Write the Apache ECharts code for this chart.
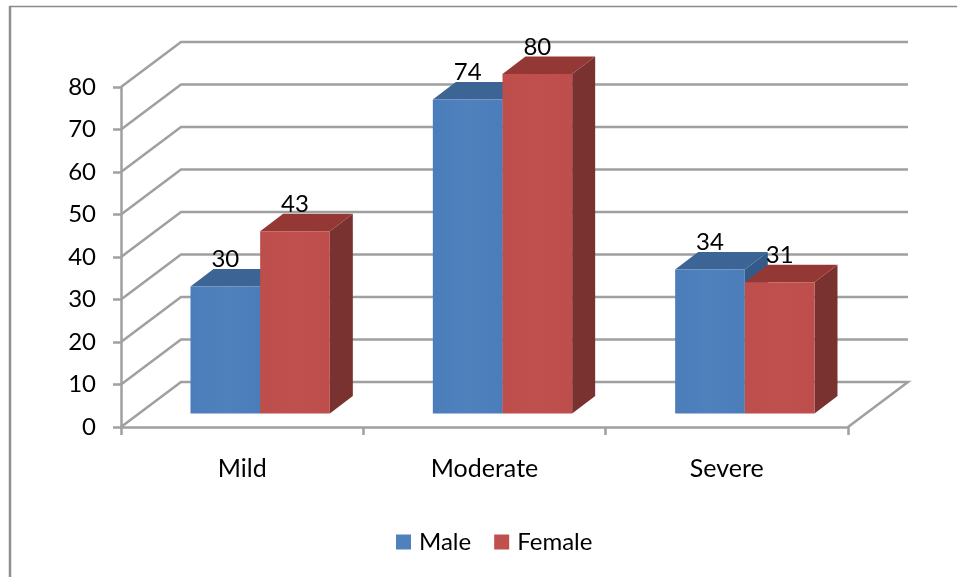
<!DOCTYPE html>
<html>
<head>
<meta charset="utf-8">
<style>html,body{margin:0;padding:0;background:#fff}#c{width:957px;height:577px}</style>
<script src="https://cdn.jsdelivr.net/npm/echarts@6/dist/echarts.min.js"></script>
</head>
<body>
<div id="c"></div>
<script>
var categories = ['Mild', 'Moderate', 'Severe'];
var maleValues = [30, 74, 34];
var femaleValues = [43, 80, 31];
var yTicks = [0, 10, 20, 30, 40, 50, 60, 70, 80];

var FONT = 'Lato, "Open Sans", sans-serif';
var WALL_DX = 60, WALL_DY = -45;
var GRID = '#a0a0a0';

function wallItem(params, api) {
  var v = api.value(0);
  var a = api.coord([categories[0], v]);
  var cs = params.coordSys;
  var x0 = cs.x, x1 = cs.x + cs.width, y = a[1];
  var pts = v === 0
    ? [[x1, y], [x1 + WALL_DX, y + WALL_DY], [x0 + WALL_DX, y + WALL_DY], [x0, y]]
    : [[x0, y], [x0 + WALL_DX, y + WALL_DY], [x1 + WALL_DX, y + WALL_DY]];
  return {
    type: 'polyline', silent: true,
    shape: { points: pts },
    style: { fill: null, stroke: GRID, lineWidth: 2.5 }
  };
}

function barRenderer(side, colors) {
  return function (params, api) {
    var cat = api.value(0), v = api.value(1);
    var top = api.coord([cat, v]), base = api.coord([cat, 0]);
    var w = api.size([1, 0])[0] * 0.2875;
    var cx = top[0] + 18;
    var L = side < 0 ? cx - w : cx, R = L + w;
    var T = top[1] - 13, B = base[1] - 13.5;
    var dx = 23, dy = -17.5;
    return {
      type: 'group',
      children: [
        { type: 'polygon', shape: { points: [[R, T], [R + dx, T + dy], [R + dx, B + dy], [R, B]] }, style: { fill: colors.side } },
        { type: 'polygon', shape: { points: [[L, T], [L + dx, T + dy], [R + dx, T + dy], [R, T]] }, style: { fill: colors.top } },
        { type: 'rect', shape: { x: L, y: T, width: w, height: B - T },
          style: { fill: new echarts.graphic.LinearGradient(0, 0, 1, 0, [
            { offset: 0, color: colors.front }, { offset: 0.5, color: colors.front2 }, { offset: 1, color: colors.front }]) } }
      ]
    };
  };
}

function labelRenderer(side) {
  return function (params, api) {
    var cat = api.value(0), v = api.value(1);
    var top = api.coord([cat, v]);
    var w = api.size([1, 0])[0] * 0.2875;
    var x = top[0] + 18 + (side < 0 ? -w / 2 : w / 2);
    return {
      type: 'text', silent: true,
      style: {
        x: x, y: top[1] - 13.5 - 26.5,
        text: String(v), fill: '#000', font: '24px ' + FONT,
        align: 'center', verticalAlign: 'middle'
      }
    };
  };
}

var blue = { front: '#4a7dba', front2: '#4f81bd', top: '#3c6494', side: '#335a88' };
var red = { front: '#bd4e4b', front2: '#c0504d', top: '#943836', side: '#7a3230' };

var chart = echarts.init(document.getElementById('c'), null, { renderer: 'canvas' });
chart.setOption({
  animation: false,
  backgroundColor: '#fff',
  textStyle: { fontFamily: FONT },
  grid: { left: 121, right: 109, top: 87, bottom: 150, containLabel: false },
  legend: {
    left: 391, top: 525, itemWidth: 15, itemHeight: 15, itemGap: 23,
    icon: 'rect',
    data: [
      { name: 'Male', itemStyle: { color: blue.front2 } },
      { name: 'Female', itemStyle: { color: red.front2 } }
    ],
    textStyle: { fontFamily: FONT, fontSize: 24, color: '#000', padding: [0, 0, 0, 3] }
  },
  xAxis: {
    type: 'category', data: categories,
    axisLine: { show: true, lineStyle: { color: GRID, width: 2.5 } },
    axisTick: { show: true, alignWithLabel: false, length: 8, lineStyle: { color: GRID, width: 2.5 } },
    axisLabel: { color: '#000', fontSize: 25, fontFamily: FONT, margin: 29 },
    splitLine: { show: false }
  },
  yAxis: {
    type: 'value', min: 0, max: 80, interval: 10,
    axisLine: { show: true, lineStyle: { color: GRID, width: 2.5 } },
    axisTick: { show: true, length: 8, lineStyle: { color: GRID, width: 2.5 } },
    axisLabel: { color: '#000', fontSize: 24, fontFamily: FONT, margin: 25, padding: [3, 0, 0, 0] },
    splitLine: { show: false }
  },
  graphic: [
    { type: 'line', silent: true, shape: { x1: 10, y1: 6, x2: 10, y2: 577 }, style: { stroke: '#909090', lineWidth: 2.5 } },
    { type: 'line', silent: true, shape: { x1: 9, y1: 6.5, x2: 957, y2: 6.5 }, style: { stroke: '#8c8c8c', lineWidth: 1.5 } }
  ],
  series: [
    { type: 'custom', name: 'walls', renderItem: wallItem, z: 1, silent: true,
      data: yTicks.map(function (t) { return [t]; }), encode: { y: 0 } },
    { type: 'custom', name: 'Male', renderItem: barRenderer(-1, blue), z: 3,
      data: categories.map(function (c, i) { return [c, maleValues[i]]; }), encode: { x: 0, y: 1 } },
    { type: 'custom', name: 'Female', renderItem: barRenderer(1, red), z: 4,
      data: categories.map(function (c, i) { return [c, femaleValues[i]]; }), encode: { x: 0, y: 1 } },
    { type: 'custom', name: 'maleLabels', renderItem: labelRenderer(-1), z: 5, silent: true,
      data: categories.map(function (c, i) { return [c, maleValues[i]]; }), encode: { x: 0, y: 1 } },
    { type: 'custom', name: 'femaleLabels', renderItem: labelRenderer(1), z: 5, silent: true,
      data: categories.map(function (c, i) { return [c, femaleValues[i]]; }), encode: { x: 0, y: 1 } }
  ]
});
</script>
</body>
</html>
